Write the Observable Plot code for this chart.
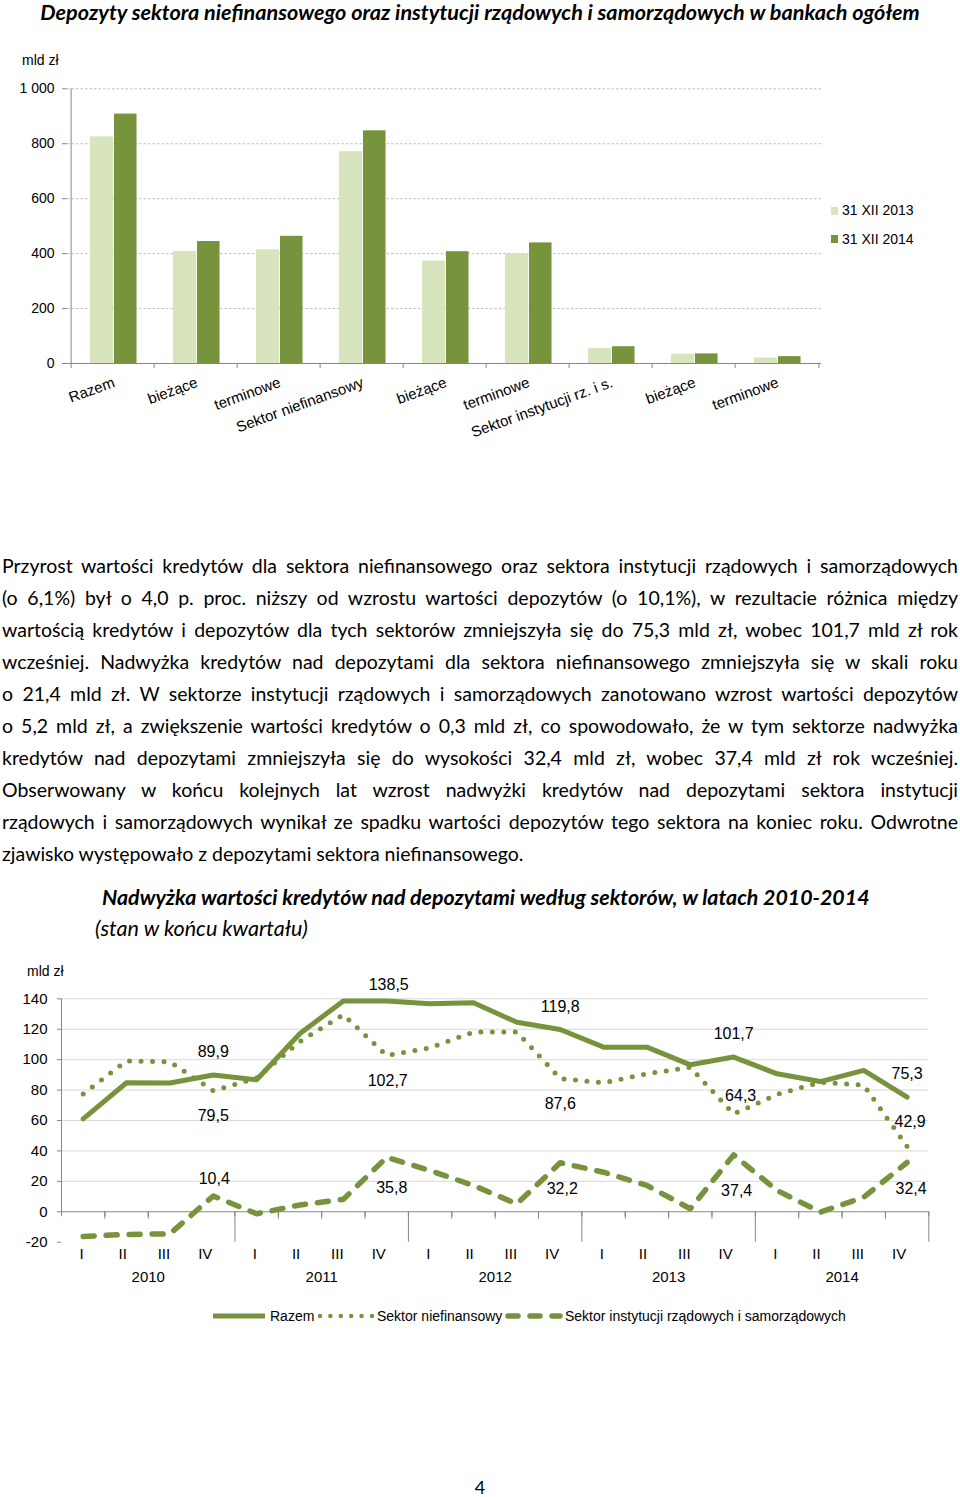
<!DOCTYPE html>
<html><head><meta charset="utf-8">
<script src="https://cdn.jsdelivr.net/npm/d3@7"></script>
<script src="https://cdn.jsdelivr.net/npm/@observablehq/plot@0.6"></script>
<style>
body{margin:0;background:#fff;}
#page{position:relative;width:960px;height:1497px;overflow:hidden;font-family:Lato,"Open Sans",sans-serif;color:#000;background:#fff;}
.abs{position:absolute;white-space:nowrap;}
.ttl{font-weight:700;font-style:italic;}
.ln{position:absolute;left:2px;width:956px;height:32px;line-height:32px;text-align:justify;text-align-last:justify;white-space:nowrap;}
.ln.last{text-align:left;text-align-last:left;}
.cf{font-family:"Liberation Sans",Arial,sans-serif;}
svg{overflow:visible;}
</style></head>
<body><div id="page">
  <div class="abs ttl" style="left:0;width:960px;top:0;height:24px;line-height:24px;text-align:center"><span id="t1" style="font-size:20px;display:inline-block">Depozyty sektora niefinansowego oraz instytucji rządowych i samorządowych w bankach ogółem</span></div>
  <div class="abs cf" style="left:22px;top:51px;font-size:14px;line-height:18px">mld zł</div>
  <div id="bar" class="abs" style="left:0;top:40px"></div>
  <div id="barLegend" class="abs cf" style="left:831px;top:200px;font-size:14px"></div>
  <div id="para"></div>
  <div class="abs ttl" style="left:102px;top:885px;height:24px;line-height:24px"><span id="t2" style="font-size:20px;display:inline-block">Nadwyżka wartości kredytów nad depozytami według sektorów, w latach 2010-2014</span></div>
  <div class="abs" style="left:95px;top:916px;height:24px;line-height:24px;font-style:italic"><span id="t3" style="font-size:20px;display:inline-block">(stan w końcu kwartału)</span></div>
  <div class="abs cf" style="left:27px;top:962px;font-size:14px;line-height:18px">mld zł</div>
  <div id="line" class="abs" style="left:0;top:960px"></div>
  <div id="lineLegend" class="abs cf" style="left:0;top:1306px;width:960px;height:20px;font-size:14px"></div>
  <div class="abs" style="left:0;width:960px;top:1476px;height:22px;line-height:22px;text-align:center;font-size:18px">4</div>
</div>
<script>
// ================= DATA =================
const barCategories = ["Razem", "bieżące", "terminowe", "Sektor niefinansowy", "bieżące", "terminowe", "Sektor instytucji rz. i s.", "bieżące", "terminowe"];
const deposits2013 = [825, 408, 414, 771, 373, 399, 55, 34, 20];
const deposits2014 = [908, 444, 463, 847, 407, 439, 61, 35, 25];
const barSeries = ["31 XII 2013", "31 XII 2014"];
const barYTicks = [0, 200, 400, 600, 800, 1000];

const years = [2010, 2011, 2012, 2013, 2014];
const quarterNames = ["I", "II", "III", "IV"];
const razem      = [61.1, 84.8, 84.7, 89.9, 86.8, 117.2, 138.6, 138.5, 136.7, 137.4, 124.6, 119.8, 108.2, 108.2, 96.6, 101.7, 90.7, 85.6, 92.9, 75.3];
const niefin     = [77.5, 99.2, 98.6, 79.5, 88.0, 112.0, 129.5, 102.7, 107.8, 118.2, 118.2, 87.6, 84.8, 90.7, 95.0, 64.3, 77.1, 85.2, 83.2, 42.9];
const instytucji = [-16.2, -14.9, -14.5, 10.4, -1.3, 4.5, 8.2, 35.8, 27.1, 17.3, 5.2, 32.2, 26.0, 17.3, 2.0, 37.4, 14.0, -0.2, 9.6, 32.4];
const lineSeries = ["Razem", "Sektor niefinansowy", "Sektor instytucji rządowych i samorządowych"];
const lineYTicks = [-20, 0, 20, 40, 60, 80, 100, 120, 140];
const labelQuarters = [3, 7, 11, 15, 19];

const paragraphLines = [
  "Przyrost wartości kredytów dla sektora niefinansowego oraz sektora instytucji rządowych i samorządowych",
  "(o 6,1%) był o 4,0 p. proc. niższy od wzrostu wartości depozytów (o 10,1%), w rezultacie różnica między",
  "wartością kredytów i depozytów dla tych sektorów zmniejszyła się do 75,3 mld zł, wobec 101,7 mld zł rok",
  "wcześniej. Nadwyżka kredytów nad depozytami dla sektora niefinansowego zmniejszyła się w skali roku",
  "o 21,4 mld zł. W sektorze instytucji rządowych i samorządowych zanotowano wzrost wartości depozytów",
  "o 5,2 mld zł, a zwiększenie wartości kredytów o 0,3 mld zł, co spowodowało, że w tym sektorze nadwyżka",
  "kredytów nad depozytami zmniejszyła się do wysokości 32,4 mld zł, wobec 37,4 mld zł rok wcześniej.",
  "Obserwowany w końcu kolejnych lat wzrost nadwyżki kredytów nad depozytami sektora instytucji",
  "rządowych i samorządowych wynikał ze spadku wartości depozytów tego sektora na koniec roku. Odwrotne",
  "zjawisko występowało z depozytami sektora niefinansowego."
];

// ================= STYLE / LAYOUT =================
const green = "#77933C", light = "#D7E4BD", axisGray = "#868686", gridGray = "#D9D9D9";
const chartFont = "'Liberation Sans', Arial, sans-serif";
const fmtPL = d3.formatLocale({decimal: ",", thousands: " ", grouping: [3], currency: ["", ""]});
const fmtThousands = fmtPL.format(",");
const fmtVal = fmtPL.format(".1f");
// label offsets (px) per series at the labelled quarters
const labelOffsets = {
  razem: {dy: [-23, -16, -23, -23.6, -23.7], dx: [0, 2, 0, 0, 0]},
  niefin: {dy: [25, 25, 25, -18.5, -25], dx: [0, 1, 0, 7, 3]},
  inst: {dy: [-17.5, 31, 26, 35.6, 26], dx: [1, 5, 2, 3, 4]}
};
// horizontal nudge of quarter labels within each year (px)
const quarterLabelDx = [-1.7, -3.9, -6, -8];

function fitWidth(id, target) {
  const el = document.getElementById(id);
  const w = el.getBoundingClientRect().width;
  const fs = parseFloat(getComputedStyle(el).fontSize);
  el.style.fontSize = (fs * target / w) + "px";
}
fitWidth("t1", 880);
fitWidth("t2", 768);
fitWidth("t3", 213);

// paragraph
(function () {
  const para = document.getElementById("para");
  const probe = document.createElement("span");
  probe.style.cssText = "position:absolute;visibility:hidden;white-space:nowrap;font-size:19px;";
  document.getElementById("page").appendChild(probe);
  let maxW = 0;
  paragraphLines.forEach(t => { probe.textContent = t; maxW = Math.max(maxW, probe.getBoundingClientRect().width); });
  probe.remove();
  const fs = Math.min(19.5, 19 * 954 / maxW);
  paragraphLines.forEach((t, k) => {
    const d = document.createElement("div");
    d.className = "ln" + (k === paragraphLines.length - 1 ? " last" : "");
    d.style.top = (550 + 32 * k) + "px";
    d.style.fontSize = fs + "px";
    d.textContent = t;
    para.appendChild(d);
  });
})();

// ================= BAR CHART =================
const barData = barCategories.map((c, i) => ({i, c, v2013: deposits2013[i], v2014: deposits2014[i]}));
const bML = 67, bMR = 139;
const bw = (960 - bML - bMR) / barCategories.length;
const barPlot = Plot.plot({
  width: 960, height: 410, marginLeft: bML, marginRight: bMR, marginTop: 48.3, marginBottom: 87,
  style: {fontFamily: chartFont, fontSize: "14px", background: "transparent", color: "#000"},
  x: {type: "band", domain: d3.range(barCategories.length), padding: 0, label: null},
  y: {domain: [0, 1000], label: null},
  marks: [
    Plot.ruleY(barYTicks.filter(d => d > 0), {stroke: "#BFBFBF", strokeDasharray: "2.5 2"}),
    Plot.barY(barData, {x: "i", y: "v2013", fill: light, insetLeft: 19, insetRight: bw - 43}),
    Plot.barY(barData, {x: "i", y: "v2014", fill: green, insetLeft: 43, insetRight: bw - 66.3}),
    Plot.ruleY([0], {stroke: axisGray}),
    Plot.ruleX([0], {x: d => d, dx: -bw / 2, stroke: axisGray}),
    Plot.ruleX(d3.range(barCategories.length), {x: d => d, y1: 0, y2: 0, insetTop: 5, dx: -bw / 2, stroke: axisGray}),
    Plot.ruleX([barCategories.length - 1], {x: d => d, y1: 0, y2: 0, insetTop: 5, dx: bw / 2, stroke: axisGray}),
    Plot.axisY({ticks: barYTicks, tickSize: 5, tickPadding: 8, tickFormat: fmtThousands, stroke: axisGray, fill: "#000", fontSize: 14}),
    Plot.axisX({ticks: d3.range(barCategories.length), tickSize: 0, tickPadding: 13, tickRotate: -20, textAnchor: "end", lineAnchor: "top", tickFormat: i => barCategories[i], fill: "#000", fontSize: 15, dx: -1})
  ]
});
document.getElementById("bar").appendChild(barPlot);

// bar legend
document.getElementById("barLegend").innerHTML = barSeries.map((s, k) =>
  `<div style="position:absolute;left:0;top:${k * 28.6}px;height:20px;line-height:20px;white-space:nowrap">` +
  `<span style="position:absolute;left:0;top:6.5px;width:7px;height:8px;background:${k ? green : light}"></span>` +
  `<span style="position:absolute;left:11px;top:0">${s}</span></div>`).join("");

// ================= LINE CHART =================
const qData = razem.map((v, i) => ({i, razem: v, niefin: niefin[i], inst: instytucji[i]}));
const nQ = quarterNames.length * years.length;
const boundaries = d3.range(nQ + 1).map(k => k - 0.5);
const seriesKeys = ["razem", "niefin", "inst"];
const labelMarks = [];
seriesKeys.forEach(key => {
  labelQuarters.forEach((q, j) => {
    labelMarks.push(Plot.text([qData[q]], {
      x: "i", y: key, text: d => fmtVal(d[key]),
      dx: labelOffsets[key].dx[j], dy: labelOffsets[key].dy[j],
      fontSize: 16, fill: "#000", lineAnchor: "middle"
    }));
  });
});
const quarterAxes = quarterNames.map((name, q) => Plot.axisX({
  ticks: d3.range(nQ).filter(i => i % 4 === q), tickSize: 0, tickPadding: 0,
  tickFormat: () => name, lineAnchor: "middle", dy: -34, dx: quarterLabelDx[q], fill: "#000", fontSize: 15
}));
const linePlot = Plot.plot({
  width: 960, height: 340, marginLeft: 61, marginRight: 31.7, marginTop: 38.3, marginBottom: 12,
  style: {fontFamily: chartFont, fontSize: "15px", background: "transparent", color: "#000"},
  x: {type: "linear", domain: [-0.5, nQ - 0.5], label: null},
  y: {domain: [-20, 140], range: [281.7, 38.3], label: null},
  marks: [
    Plot.ruleY(lineYTicks.filter(d => d > 0), {stroke: gridGray}),
    Plot.ruleY([0], {stroke: axisGray}),
    Plot.ruleX([boundaries[0]], {x: d => d, y1: 140, stroke: axisGray}),
    Plot.ruleX(boundaries, {x: d => d, y1: 0, y2: 0, insetTop: 5, stroke: axisGray}),
    Plot.ruleX(boundaries.filter((b, k) => k % 4 !== 0), {x: d => d, y1: -20, insetBottom: 23, stroke: axisGray}),
    Plot.ruleX(boundaries.filter((b, k) => k % 4 === 0 && k > 0), {x: d => d, y1: -20, stroke: axisGray}),
    Plot.axisY({ticks: lineYTicks, tickSize: 4, tickPadding: 10, tickFormat: d => String(d), stroke: axisGray, fill: "#000", fontSize: 15}),
    ...quarterAxes,
    Plot.axisX({ticks: years.map((y, k) => k * 4 + 1.5), tickSize: 0, tickPadding: 0, tickFormat: d => String(years[Math.round((d - 1.5) / 4)]), lineAnchor: "middle", dy: -11, fill: "#000", fontSize: 15}),
    Plot.line(qData, {x: "i", y: "niefin", stroke: green, strokeWidth: 5, strokeDasharray: "0 11.5", strokeLinecap: "round", strokeLinejoin: "round"}),
    Plot.line(qData, {x: "i", y: "inst", stroke: green, strokeWidth: 5.5, strokeDasharray: "11 12", strokeLinecap: "round", strokeLinejoin: "round"}),
    Plot.line(qData, {x: "i", y: "razem", stroke: green, strokeWidth: 5, strokeLinejoin: "round"}),
    ...labelMarks
  ]
});
document.getElementById("line").appendChild(linePlot);

// line legend
(function () {
  const lg = document.getElementById("lineLegend");
  const samples = [
    {x1: 213, x2: 265, dash: null, cap: "butt", w: 5},
    {x1: 320, x2: 372, dash: "0 10.4", cap: "round", w: 4.5},
    {x1: 508, x2: 560, dash: "10 12", cap: "round", w: 5.5}
  ];
  const textX = [270, 377, 565];
  let html = `<svg width="960" height="20" style="position:absolute;left:0;top:0">`;
  samples.forEach(s => {
    html += `<line x1="${s.x1}" x2="${s.x2}" y1="10" y2="10" stroke="${green}" stroke-width="${s.w}" stroke-linecap="${s.cap}"${s.dash ? ` stroke-dasharray="${s.dash}"` : ""}/>`;
  });
  html += `</svg>`;
  lineSeries.forEach((s, k) => {
    html += `<span style="position:absolute;left:${textX[k]}px;top:0;height:20px;line-height:20px;white-space:nowrap">${s}</span>`;
  });
  lg.innerHTML = html;
})();
</script>
</body></html>
